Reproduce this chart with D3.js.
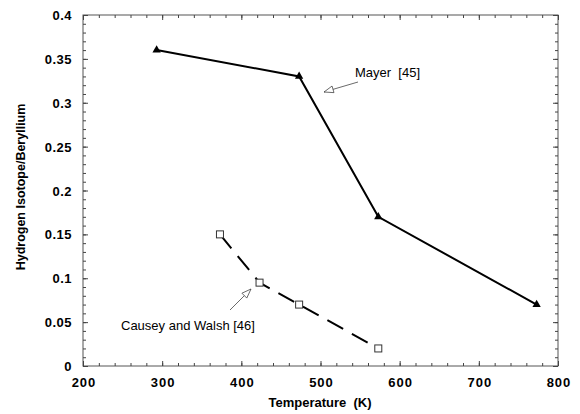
<!DOCTYPE html>
<html>
<head>
<meta charset="utf-8">
<script src="https://cdn.jsdelivr.net/npm/d3@7"></script>
<style>
body { margin: 0; background: #fff; }
text { font-family: "Liberation Sans", Arial, sans-serif; }
</style>
</head>
<body>
<div id="chart"></div>
<script>
// data
var mayerT = [293, 473, 573, 773];
var mayerR = [0.36, 0.33, 0.17, 0.07];
var causeyT = [373, 423, 473, 573];
var causeyR = [0.15, 0.095, 0.07, 0.02];
var xTicks = [200, 300, 400, 500, 600, 700, 800];
var yTicks = [0, 0.05, 0.1, 0.15, 0.2, 0.25, 0.3, 0.35, 0.4];

var width = 580, height = 414;
var plotLeft = 83, plotRight = 558, plotTop = 15, plotBottom = 366;

var svg = d3.select("#chart").append("svg")
    .attr("width", width)
    .attr("height", height);

var x = d3.scaleLinear().domain([200, 800]).range([plotLeft, plotRight]);
var y = d3.scaleLinear().domain([0, 0.4]).range([plotBottom, plotTop]);

// frame
svg.append("rect")
    .attr("x", plotLeft).attr("y", plotTop)
    .attr("width", plotRight - plotLeft).attr("height", plotBottom - plotTop)
    .attr("fill", "none").attr("stroke", "#555").attr("stroke-width", 1);

// inside ticks, mirrored on the opposite side
var xMinor = d3.range(200, 801, 20);
var yMinor = d3.range(0, 0.4001, 0.01);

function tickAxis(axis, pos, minor, major) {
    var g = svg.append("g")
        .attr("transform", pos)
        .call(axis.tickValues(minor).tickSize(3).tickFormat(""));
    g.select(".domain").remove();
    g.selectAll("line").attr("stroke", "#444");
    var g2 = svg.append("g")
        .attr("transform", pos)
        .call(axis.tickValues(major).tickSize(5).tickFormat(""));
    g2.select(".domain").remove();
    g2.selectAll("line").attr("stroke", "#444");
}

tickAxis(d3.axisTop(x), "translate(0," + plotBottom + ")", xMinor, xTicks);
tickAxis(d3.axisBottom(x), "translate(0," + plotTop + ")", xMinor, xTicks);
tickAxis(d3.axisRight(y), "translate(" + plotLeft + ",0)", yMinor, yTicks);
tickAxis(d3.axisLeft(y), "translate(" + plotRight + ",0)", yMinor, yTicks);

// tick labels
svg.append("g").selectAll("text")
    .data(xTicks)
    .enter().append("text")
    .attr("x", function(d) { return x(d) + 1; })
    .attr("y", 387)
    .attr("text-anchor", "middle")
    .style("font-size", "13px")
    .style("font-weight", "bold")
    .style("letter-spacing", "1px")
    .text(function(d) { return d; });

svg.append("g").selectAll("text")
    .data(yTicks)
    .enter().append("text")
    .attr("x", plotLeft - 11)
    .attr("y", function(d) { return y(d) + 5; })
    .attr("text-anchor", "end")
    .style("font-size", "13px")
    .style("font-weight", "bold")
    .style("letter-spacing", "0.5px")
    .text(function(d) { return d; });

// axis titles
svg.append("text")
    .attr("x", 320)
    .attr("y", 407)
    .attr("text-anchor", "middle")
    .style("font-size", "13px")
    .style("font-weight", "bold")
    .attr("xml:space", "preserve")
    .text("Temperature  (K)");

svg.append("text")
    .attr("transform", "translate(25,187) rotate(-90)")
    .attr("text-anchor", "middle")
    .style("font-size", "12.5px")
    .style("font-weight", "bold")
    .text("Hydrogen Isotope/Beryllium");

var line = d3.line()
    .x(function(d) { return x(d[0]); })
    .y(function(d) { return y(d[1]); });

var mayer = d3.zip(mayerT, mayerR);
var causey = d3.zip(causeyT, causeyR);

svg.append("path")
    .datum(mayer)
    .attr("d", line)
    .attr("fill", "none")
    .attr("stroke", "#000")
    .attr("stroke-width", 2);

svg.append("g").selectAll("path")
    .data(mayer)
    .enter().append("path")
    .attr("d", d3.symbol().type(d3.symbolTriangle).size(30))
    .attr("transform", function(d) { return "translate(" + x(d[0]) + "," + y(d[1]) + ")"; })
    .attr("fill", "#000");

svg.append("path")
    .datum(causey)
    .attr("d", line)
    .attr("fill", "none")
    .attr("stroke", "#000")
    .attr("stroke-width", 2)
    .attr("stroke-dasharray", "18,10");

svg.append("g").selectAll("rect")
    .data(causey)
    .enter().append("rect")
    .attr("x", function(d) { return x(d[0]) - 3.5; })
    .attr("y", function(d) { return y(d[1]) - 3.5; })
    .attr("width", 7).attr("height", 7)
    .attr("fill", "#fff")
    .attr("stroke", "#333")
    .attr("stroke-width", 1);

// annotations
function arrow(x1, y1, x2, y2) {
    svg.append("line")
        .attr("x1", x1).attr("y1", y1).attr("x2", x2).attr("y2", y2)
        .attr("stroke", "#444").attr("stroke-width", 0.8);
    var a = Math.atan2(y2 - y1, x2 - x1), L = 10, w = 0.35;
    var p = [[x2, y2],
        [x2 - L * Math.cos(a - w), y2 - L * Math.sin(a - w)],
        [x2 - L * Math.cos(a + w), y2 - L * Math.sin(a + w)]];
    svg.append("polygon")
        .attr("points", p.map(function(d) { return d.join(","); }).join(" "))
        .attr("fill", "#fff").attr("stroke", "#444").attr("stroke-width", 0.8);
}

svg.append("text")
    .attr("x", 355).attr("y", 77)
    .style("font-size", "13px")
    .attr("xml:space", "preserve")
    .text("Mayer  [45]");
arrow(358, 82, 324, 92);

svg.append("text")
    .attr("x", 121).attr("y", 330)
    .style("font-size", "13px")
    .text("Causey and Walsh [46]");
arrow(230, 310, 251, 289);
</script>
</body>
</html>
